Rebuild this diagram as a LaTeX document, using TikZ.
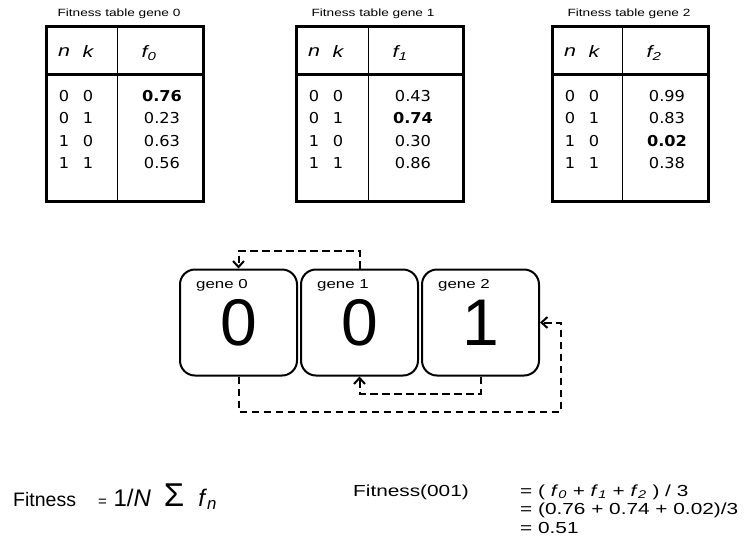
\documentclass[tikz,border=0pt]{standalone}
\usepackage{fontspec}
\usetikzlibrary{positioning, calc, arrows.meta}
\newfontfamily\arialfont{Liberation Sans}[FakeStretch=1.3]
\newfontfamily\arialplain{Liberation Sans}
\newfontfamily\tablefont{DejaVu Sans}[FakeStretch=1.08]
\newcommand{\fsize}[1]{\fontsize{#1}{#1}\selectfont}
\newcommand{\fsub}[1]{\textit{f}\textsubscript{\itshape #1}}

\tikzset{
  tabcaption/.style={font=\arialfont\fsize{10.5}, inner sep=0pt},
  tabhead/.style={font=\arialfont\itshape\fsize{16.5}, inner sep=0pt},
  tabentry/.style={font=\tablefont\fsize{15}, inner sep=0pt},
  genebox/.style={draw, line width=2pt, rounded corners=15pt,
    minimum width=117pt, minimum height=106pt, inner sep=0pt,
    font=\arialplain\fsize{66}},
  genelabel/.style={font=\arialfont\fsize{13}, inner sep=0pt},
  feedback/.style={line width=2pt, dash pattern=on 7.5pt off 4.5pt,
    -{Straight Barb[length=6pt,width=11pt]}},
  formula/.style={font=\arialfont\fsize{16}, inner sep=0pt}
}

\begin{document}
\begin{tikzpicture}[x=1pt, y=-1pt]
\useasboundingbox (0,0) rectangle (747,542);

% fitness tables
\foreach \g/\L/\D/\R/\cx/\vals in
{0/46/117/203/119/{\textbf{0.76},0.23,0.63,0.56},
 1/296/368/463/373/{0.43,\textbf{0.74},0.30,0.86},
 2/552/622/708/629/{0.99,0.83,\textbf{0.02},0.38}}
{
\node[tabcaption] (cap\g) at (\cx,14) {Fitness table gene \g};
\draw[line width=3pt] (\L,26) rectangle (\R,201);
\draw[line width=3pt] (\L,74) -- (\R,74);
\draw[line width=0.8pt] (\D,26) -- (\D,201);
\node[tabhead] (n\g) at (\L+18,52) {n};
\node[tabhead] (k\g) at (\L+42,52) {k};
\node[tabhead] (f\g) at (\D+32,53) {\fsub{\g}};
\foreach \nn/\kk [count=\r] in {0/0,0/1,1/0,1/1}
{
\node[tabentry] (n\g-\r) at (\L+18,73.6+22.4*\r) {\nn};
\node[tabentry] (k\g-\r) at (\L+42,73.6+22.4*\r) {\kk};
}
\foreach \v [count=\r] in \vals
\node[tabentry] (v\g-\r) at (\D+45,73.6+22.4*\r) {\v};
}

% genome
\node[genebox] (g0) at (238.5,322.5) {0};
\node[genebox, right=2pt of g0] (g1) {0};
\node[genebox, right=2pt of g1] (g2) {1};
\foreach \i in {0,1,2}
\node[genelabel, anchor=west] (l\i) at ($(g\i.north west)+(17,17)$) {gene \i};

% epistatic links
\draw[feedback] (g1.north) -- ++(0,-18) -| (g0.north);
\draw[feedback] (g2.south) -- ++(0,17) -| (g1.south);
\coordinate (turn) at ($(g2.east)+(21,0)$);
\draw[feedback] (g0.south) -- ++(0,35) -| (turn) -- (g2.east);

% fitness formulas
\node[anchor=base west, inner sep=0pt, font=\arialplain\fsize{19.5}] (fit) at (13,506) {Fitness};
\node[anchor=base west, inner sep=0pt, font=\arialplain\fsize{24}] (fitdef) at (98,506)
  {{\fsize{15}=} 1/\textit{N}\hspace{13pt}{\fsize{33}Σ}\hspace{14pt}\fsub{n}};
\node[formula, anchor=base west] (fit001) at (353,496) {Fitness(001)};
\node[formula, anchor=base west] (eq1) at (520,496)
  {= ( \fsub{0} + \fsub{1} + \fsub{2} ) / 3};
\node[formula, anchor=base west] (eq2) at (520,514)
  {= (0.76 + 0.74 + 0.02)/3};
\node[formula, anchor=base west] (eq3) at (520,533) {= 0.51};
\end{tikzpicture}
\end{document}
